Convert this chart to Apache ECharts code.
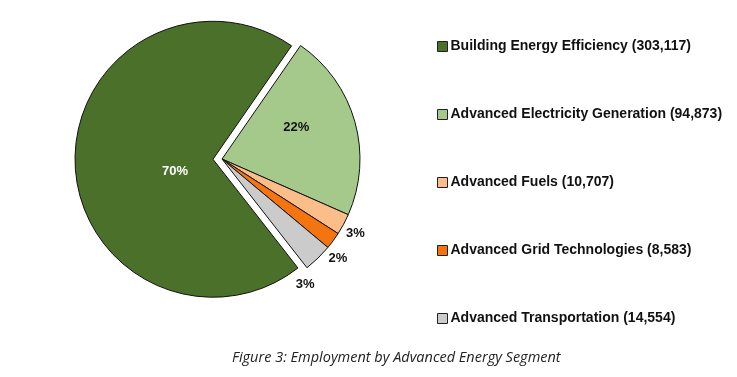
<!DOCTYPE html>
<html>
<head>
<meta charset="utf-8">
<script src="https://cdn.jsdelivr.net/npm/echarts@6/dist/echarts.min.js"></script>
<style>
  html, body { margin: 0; padding: 0; background: #fff; }
  #chart { width: 737px; height: 377px; }
</style>
</head>
<body>
<div id="chart"></div>
<script>
const segments = [
  'Building Energy Efficiency',
  'Advanced Electricity Generation',
  'Advanced Fuels',
  'Advanced Grid Technologies',
  'Advanced Transportation'
];
const employment = [303117, 94873, 10707, 8583, 14554];
const percentLabels = ['70%', '22%', '3%', '2%', '3%'];
const colors = ['#4a7029', '#a4c98b', '#fbbd8a', '#f4740f', '#cbcbcb'];

// label nudges to mimic the Excel placement
const labelShift = [[34, 10], [5, -12], [-6, 7], [-13, 15], [-30, 23]];

const chart = echarts.init(document.getElementById('chart'), null, { renderer: 'canvas' });

const data = segments.map((name, i) => ({
  name,
  value: employment[i],
  selected: i === 0,
  itemStyle: { color: colors[i] },
  label: i < 2
    ? { position: 'inside', color: i === 0 ? '#fff' : '#111' }
    : { position: 'outside', color: '#111' }
}));

chart.setOption({
  animation: false,
  title: {
    text: 'Figure 3: Employment by Advanced Energy Segment',
    left: 227,
    top: 345,
    textStyle: { fontFamily: "'Open Sans', sans-serif", fontStyle: 'italic', fontWeight: 'normal', fontSize: 14.5, color: '#222' }
  },
  legend: {
    orient: 'vertical',
    left: 432,
    top: 34,
    itemWidth: 10,
    itemHeight: 10,
    itemGap: 53,
    icon: 'rect',
    selectedMode: false,
    itemStyle: { borderColor: '#222', borderWidth: 1 },
    textStyle: { fontFamily: "'Liberation Sans', Arial, sans-serif", fontWeight: 'bold', fontSize: 14, color: '#111', lineHeight: 15, padding: [0, 0, 0, -2] },
    formatter(name) {
      const i = segments.indexOf(name);
      return name + ' (' + employment[i].toLocaleString('en-US') + ')';
    },
    data: segments
  },
  series: [{
    type: 'pie',
    center: [222, 159],
    radius: 138,
    startAngle: 308,
    clockwise: true,
    selectedMode: 'single',
    selectedOffset: 9,
    avoidLabelOverlap: false,
    data,
    itemStyle: { borderColor: '#111', borderWidth: 1 },
    select: { itemStyle: { borderColor: '#111', borderWidth: 1 } },
    emphasis: { disabled: true },
    label: {
      show: true,
      formatter: (p) => percentLabels[p.dataIndex],
      fontFamily: "'Liberation Sans', Arial, sans-serif",
      fontWeight: 'bold',
      fontSize: 13
    },
    labelLine: { show: false, length: 4, length2: 0 },
    labelLayout: (p) => ({ dx: labelShift[p.dataIndex][0], dy: labelShift[p.dataIndex][1] })
  }]
});
</script>
</body>
</html>
